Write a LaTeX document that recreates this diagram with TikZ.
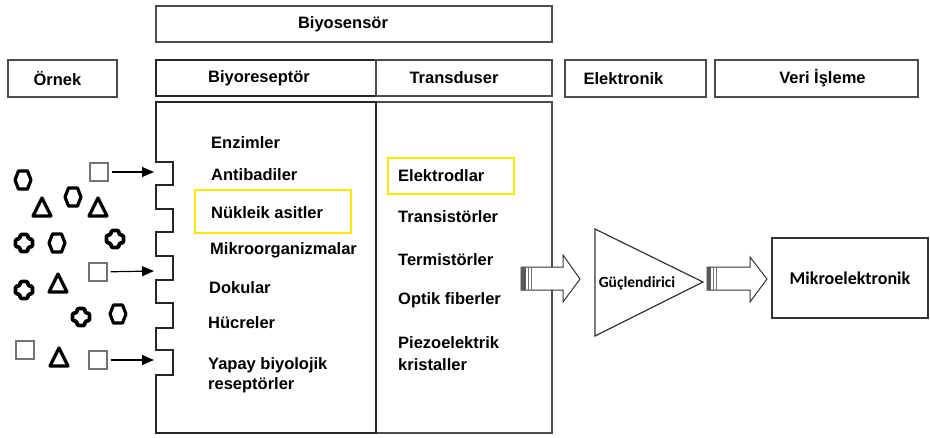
\documentclass[tikz,border=0pt]{standalone}
\usepackage{fontspec}
\setmainfont{Liberation Sans}
\newfontfamily\calib{Carlito}
\usetikzlibrary{arrows.meta}
\definecolor{hl}{RGB}{255,232,0}
\newcommand\myhex[2]{\draw[shp, shift={(#1,#2)}] (-4.5,-9) -- (4.5,-9) -- (8,0) -- (4.5,9) -- (-4.5,9) -- (-8,0) -- cycle;}
\newcommand\mytri[2]{\draw[shp, shift={(#1,#2)}] (0,-9) -- (9,9) -- (-9,9) -- cycle;}
\newcommand\mycross[2]{\draw[shp, line width=3.6pt, rounded corners=1.5pt, shift={(#1,#2)}] (-4,-8.5) -- (4,-8.5) -- (4,-4) -- (8.5,-4) -- (8.5,4) -- (4,4) -- (4,8.5) -- (-4,8.5) -- (-4,4) -- (-8.5,4) -- (-8.5,-4) -- (-4,-4) -- cycle;}
\begin{document}
\begin{tikzpicture}[x=1pt,y=-1pt,
 hbox/.style={draw=black!70, line width=1.6pt, inner sep=0pt, font=\fontsize{16.5}{19}\selectfont\bfseries},
 item/.style={anchor=west, inner sep=0pt, font=\fontsize{16.5}{21}\selectfont\bfseries, align=left},
 hlbox/.style={draw=hl, line width=2.8pt},
 shp/.style={draw=black, line width=3.2pt, line join=round},
 sq/.style={draw=black!55, line width=1.4pt, minimum size=18pt, inner sep=0pt},
 ptr/.style={-{Triangle[length=12pt,width=10pt]}, line width=1.2pt, shorten <=3pt},
 blk/.style={draw=black!80, fill=white, line width=1pt, line join=miter}
]
\useasboundingbox (0,0) rectangle (930,437);

% header boxes
\node[hbox, minimum width=396pt, minimum height=36pt] (bios) at (354,24) {Biyosensör\hspace*{22pt}};
\node[hbox, minimum width=109pt, minimum height=37pt] (ornek) at (62.5,78.5) {Örnek\hspace*{10pt}};
\node[hbox, draw=black!85, line width=2.2pt, minimum width=220pt, minimum height=36pt] (brec) at (266,78) {Biyoreseptör\hspace*{14pt}};
\node[hbox, minimum width=176pt, minimum height=36pt] (trans) at (464,78) {Transduser\hspace*{20pt}};
\node[hbox, minimum width=141pt, minimum height=37pt] (elek) at (635.5,78.5) {Elektronik\hspace*{24pt}};
\node[hbox, minimum width=203pt, minimum height=37pt] (veri) at (816.5,78.5) {\hspace*{12pt}Veri İşleme};

% transducer box
\node[draw=black!70, line width=1.5pt, minimum width=176pt, minimum height=331pt, inner sep=0pt] (trbox) at (464,267.5) {};

% bioreceptor outline with notches
\draw[draw=black!85, line width=2pt, line join=miter]
 (156,102) -- (376,102) -- (376,433) -- (156,433)
 -- (156,375) -- (173,375) -- (173,350) -- (156,350)
 -- (156,328) -- (173,328) -- (173,303) -- (156,303)
 -- (156,280) -- (173,280) -- (173,256) -- (156,256)
 -- (156,232) -- (173,232) -- (173,209) -- (156,209)
 -- (156,185) -- (173,185) -- (173,162) -- (156,162) -- cycle;

% highlight boxes
\draw[hlbox] (195,190) rectangle (351,233);
\draw[hlbox] (388,158) rectangle (514,194);

% bioreceptor items
\node[item] (i1) at (211,143) {Enzimler};
\node[item] (i2) at (211,175) {Antibadiler};
\node[item] (i3) at (211,213) {Nükleik asitler};
\node[item] (i4) at (210,250) {Mikroorganizmalar};
\node[item] (i5) at (209,288) {Dokular};
\node[item] (i6) at (208,323) {Hücreler};
\node[item, font=\fontsize{16.5}{20}\selectfont\bfseries] (i7) at (208,375) {Yapay biyolojik\\reseptörler};

% transducer items
\node[item] (t1) at (398,176) {Elektrodlar};
\node[item] (t2) at (398,217) {Transistörler};
\node[item] (t3) at (398,260) {Termistörler};
\node[item] (t4) at (398,300) {Optik fiberler};
\node[item, font=\fontsize{16.5}{22}\selectfont\bfseries] (t5) at (398,354) {Piezoelektrik\\kristaller};

% sample shapes
\myhex{23}{180}
\myhex{73}{197}
\myhex{57}{243}
\myhex{118}{314}
\mytri{42}{207}
\mytri{98}{207}
\mytri{58}{283}
\mytri{59}{357}
\mycross{24}{243}
\mycross{115}{239}
\mycross{24}{290}
\mycross{81}{317}
\node[sq] (q0) at (25,350) {};

% analyte squares and arrows
\node[sq] (q1) at (99,172) {};
\node[sq] (q2) at (98,272) {};
\node[sq] (q3) at (98,360) {};
\coordinate (n1) at (154,172);
\coordinate (n2) at (154,271);
\coordinate (n3) at (154,360);
\draw[ptr] (q1) -- (n1);
\draw[ptr] (q2) -- (n2);
\draw[ptr] (q3) -- (n3);

% block arrow 1
\draw[blk] (521,267) -- (563,267) -- (563,255) -- (580,279) -- (563,302) -- (563,290) -- (521,290) -- cycle;
\fill[black!65] (521,267) rectangle (526,290);
\draw[black!55, line width=0.8pt] (528.5,267) -- (528.5,290);
\draw[black!55, line width=0.8pt] (531,267) -- (531,290);

% amplifier
\draw[draw=black!80, line width=1.2pt, line join=miter] (595,229) -- (703,282) -- (595,336) -- cycle;
\node[font=\calib\fontsize{15.5}{18}\selectfont\bfseries, inner sep=0pt] (amp) at (637,283) {Güçlendirici};

% block arrow 2
\draw[blk] (707,267) -- (750,267) -- (750,257) -- (767,279) -- (750,302) -- (750,290) -- (707,290) -- cycle;
\fill[black!65] (707,267) rectangle (711,290);
\draw[black!55, line width=0.8pt] (713,267) -- (713,290);
\draw[black!55, line width=0.8pt] (716,267) -- (716,290);

% microelectronics
\node[draw=black!80, line width=2pt, minimum width=156pt, minimum height=80pt, inner sep=0pt,
      font=\calib\fontsize{18}{21}\selectfont\bfseries] (mikro) at (850,278) {Mikroelektronik};
\end{tikzpicture}
\end{document}
